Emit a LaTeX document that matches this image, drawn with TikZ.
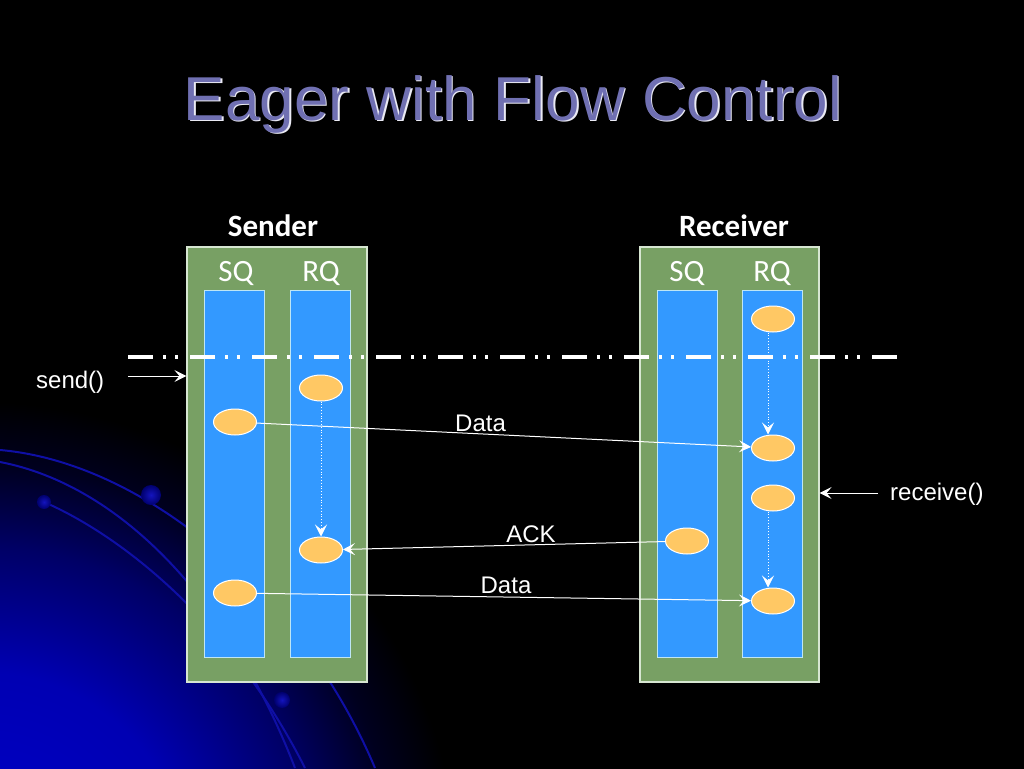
\documentclass[tikz,border=0pt]{standalone}
\usepackage{fontspec}
\setmainfont{Liberation Sans}
\newfontfamily\calfont{Carlito}
\usetikzlibrary{arrows.meta,shapes.geometric}
\definecolor{boxgreen}{RGB}{120,160,100}
\definecolor{boxedge}{RGB}{215,230,210}
\definecolor{colblue}{RGB}{51,153,255}
\definecolor{coledge}{RGB}{190,230,245}
\definecolor{eggfill}{RGB}{255,200,100}
\definecolor{titlecol}{RGB}{112,112,178}
\definecolor{arcblue}{RGB}{15,15,165}
\definecolor{ballin}{RGB}{20,20,190}
\definecolor{ballout}{RGB}{0,0,110}
\pgfdeclareradialshading{bgglow}{\pgfpoint{0bp}{0bp}}{rgb(0bp)=(0,0,0.80); rgb(3.47bp)=(0,0,0.70); rgb(5.55bp)=(0,0,0.40); rgb(6.93bp)=(0,0,0.12); rgb(7.97bp)=(0,0,0); rgb(25bp)=(0,0,0); rgb(50bp)=(0,0,0)}
\tikzset{
  gbox/.style={draw=boxedge, line width=1.2pt, fill=boxgreen, minimum height=435pt, inner sep=0pt},
  qcol/.style={draw=coledge, line width=1pt, fill=colblue, minimum width=60pt, minimum height=367pt, inner sep=0pt},
  egg/.style={ellipse, draw=white, line width=1pt, fill=eggfill, minimum width=43pt, minimum height=26pt, inner sep=0pt},
  lbl/.style={text=white, font=\fontsize{24}{28}\selectfont, inner sep=0pt},
  qlbl/.style={text=white, font=\calfont\fontsize{31}{35}\selectfont, inner sep=0pt, anchor=base},
  hlbl/.style={text=white, font=\calfont\bfseries\fontsize{31}{35}\selectfont, inner sep=0pt, anchor=base},
  flowarrow/.style={draw=white, line width=1pt, -{Stealth[length=12pt,width=12pt,inset=5pt]}},
  dotarrow/.style={draw=white, line width=0.8pt, dotted, -{Stealth[length=12pt,width=12pt,inset=5pt]}},
  arcline/.style={draw=arcblue, line width=2pt},
  bluedot/.style={inner color=ballin, outer color=ballout},
}
\begin{document}
\begin{tikzpicture}[x=1pt,y=-1pt]
\useasboundingbox (0,0) rectangle (1024,768);
% background glow and arcs
\begin{scope}
\clip (0,0) rectangle (1024,768);
\shade[shading=bgglow] (-20,880) circle (1500);
\draw[arcline] (0,450) .. controls (140,462) and (300,590) .. (375,768);
\draw[arcline] (0,462) .. controls (120,485) and (230,600) .. (295,768);
\draw[arcline] (44,502) .. controls (120,535) and (230,620) .. (305,768);
\shade[bluedot] (151,495) circle (10);
\shade[bluedot] (44,502) circle (7);
\shade[bluedot] (282,700) circle (8);
\end{scope}
% title
\node[anchor=base, inner sep=0pt, text=white!85!titlecol, font=\fontsize{62}{70}\selectfont] (titleshadow) at (514.5,121.5) {Eager with Flow Control};
\node[anchor=base, inner sep=0pt, text=titlecol, font=\fontsize{62}{70}\selectfont] (title) at (513,120) {Eager with Flow Control};
% headers
\node[hlbl] (sendhdr) at (273,236) {Sender};
\node[hlbl] (recvhdr) at (734,236) {Receiver};
% boxes
\node[gbox, minimum width=180pt] (sbox) at (277,464.5) {};
\node[gbox, minimum width=179pt] (rbox) at (729.5,464.5) {};
\node[qcol] (ssq) at (234,473.5) {};
\node[qcol] (srq) at (320,473.5) {};
\node[qcol] (rsq) at (687,473.5) {};
\node[qcol] (rrq) at (772,473.5) {};
\node[qlbl] (ssql) at (236,281) {SQ};
\node[qlbl] (srql) at (321,281) {RQ};
\node[qlbl] (rsql) at (687,281) {SQ};
\node[qlbl] (rrql) at (772,281) {RQ};
% eggs
\node[egg] (s1) at (235,422) {};
\node[egg] (s2) at (235,593) {};
\node[egg] (sr1) at (321,388) {};
\node[egg] (sr2) at (321,550) {};
\node[egg] (rs1) at (687,541) {};
\node[egg] (rr1) at (773,319) {};
\node[egg] (rr2) at (773,448) {};
\node[egg] (rr3) at (773,498) {};
\node[egg] (rr4) at (773,601) {};
% dotted queue moves
\draw[dotarrow] (sr1) -- (sr2);
\draw[dotarrow] ([xshift=-5pt]rr1.south) -- ([xshift=-5pt]rr2.north);
\draw[dotarrow] ([xshift=-5pt]rr3.south) -- ([xshift=-5pt]rr4.north);
% dash-dot line
\coordinate (dl) at (128,357);
\coordinate (dr) at (898,357);
\draw[white, line width=3.5pt, dash pattern=on 25pt off 10pt on 3pt off 9pt on 3pt off 12pt] (dl) -- (dr);
% messages
\draw[flowarrow] (s1) -- (rr2);
\draw[flowarrow] (rs1) -- (sr2);
\draw[flowarrow] (s2) -- (rr4);
\node[lbl, anchor=base west] (data1) at (455,431) {Data};
\node[lbl, anchor=base] (ack) at (531,542) {ACK};
\node[lbl, anchor=base] (data2) at (506,593) {Data};
% send / receive
\node[lbl, anchor=base west] (sendt) at (36,388) {send()};
\coordinate (sendc) at (128,376);
\draw[flowarrow] (sendc) -- (sendc -| sbox.west);
\node[lbl, anchor=base west] (recvt) at (890,500) {receive()};
\coordinate (recvc) at (878,493);
\draw[flowarrow] (recvc) -- (recvc -| rbox.east);
\end{tikzpicture}
\end{document}
